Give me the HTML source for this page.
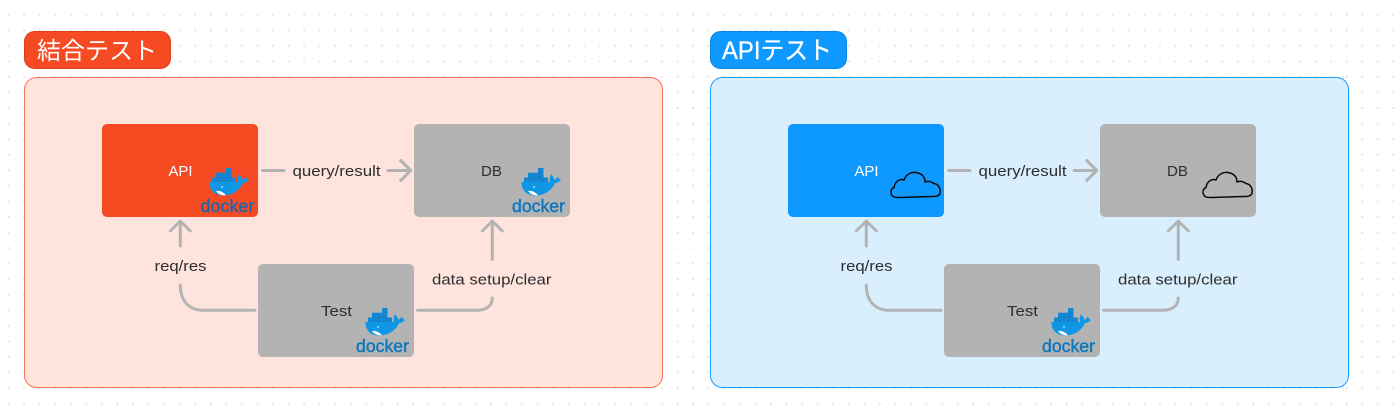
<!DOCTYPE html>
<html><head><meta charset="utf-8">
<style>
html,body{margin:0;padding:0;background:#fff;width:1400px;height:414px;overflow:hidden}
svg{display:block}
text{font-family:"Liberation Sans","Noto Sans CJK JP",sans-serif}
.l{font-size:15px;fill:#2e2e2e}
.c{fill:none;stroke:#b3b3b3;stroke-width:3;stroke-linecap:round;stroke-linejoin:round}
.d{font-size:17.500px;stroke-width:.45px}
</style></head><body>
<svg width="1400" height="414" viewBox="0 0 1400 414" xmlns="http://www.w3.org/2000/svg">
<defs>
<pattern id="g" x="0.72" y="6.92" width="15.56" height="15.56" patternUnits="userSpaceOnUse"><circle cx="7.78" cy="7.78" r="1" fill="#dedede"/></pattern>
<symbol id="w" viewBox="0 0 40 28" overflow="visible">
<path d="M0.500 14H29C28 11 29 9 30 6C32 8 33 10 33.500 12C35 11 36 9.500 37 8.500C37 10 38 11 40 12C38 14 36 15 34 15C31 22 24 27.500 14 27.500C5 27.500 0 21 0.500 14Z" fill="#0f97e6"/>
<path d="M7 23C10 22.500 14 23.500 17 27.200C12.500 27.800 9 26 7 23Z" fill="#fff"/>
<circle cx="13" cy="19" r="0.900" fill="#cfe9fa"/>
<g fill="#1488d4"><rect x="3" y="9.500" width="24" height="4.500"/><rect x="7" y="4.700" width="15.500" height="4.500"/><rect x="17" y="0" width="5.500" height="4.500"/></g>
<g stroke="#0f74bb" stroke-width=".5"><path d="M8 9.500V14M13 4.700V14M18 4.700V14M22.500 9.500V14M7 9.300H22.500M17 4.600H22.500"/></g>
</symbol>
<symbol id="cl" viewBox="0 0 50 28" overflow="visible">
<path d="M3 25C-1 23 -1 17 3 15.500C4 9 9 6.500 13 8C15 2 21 -1 27 1C32 2.500 34 6 34 10C38 8.500 41 10 43 11.500C47 12 50 16 49 21C48.500 24 45 24.500 42 24.500C30 24.500 15 25.500 8 25.500C6 25.500 4 25.500 3 25Z" fill="none" stroke="#0a0a0a" stroke-width="1.500" stroke-linejoin="round"/>
</symbol>
<g id="con">
<path class="c" d="M262.500 170.500H284M388 170.500H410.500M400.700 160.500L410.800 170.500L400.700 180.500"/>
<path class="c" d="M180.300 246V221.500M170.300 231L180.300 221L190.300 231"/>
<path class="c" d="M180.300 285C180.300 302 190 310.300 204 310.300H255"/>
<path class="c" d="M417.500 310.300H476C486 310.300 492.300 306 492.300 298"/>
<path class="c" d="M492.300 259.500V221.500M482.300 231L492.300 221L502.300 231"/>
</g>
</defs>
<rect width="1400" height="414" fill="#fff"/>
<rect width="1400" height="414" fill="url(#g)"/>

<!-- left panel -->
<rect x="24.500" y="77.500" width="638" height="310" rx="12" fill="#ffe3dd" stroke="#f8735a"/>
<rect x="24.500" y="31.500" width="146" height="37" rx="10" fill="#f64a22" stroke="#d83f1b"/>
<text x="37" y="59" font-size="24" fill="#fff" textLength="120" lengthAdjust="spacingAndGlyphs">結合テスト</text>

<use href="#con"/>
<rect x="102" y="124" width="156" height="93" rx="5" fill="#f64a22"/>
<rect x="414" y="124" width="156" height="93" rx="5" fill="#b3b3b3"/>
<rect x="258" y="264" width="156" height="93" rx="5" fill="#b3b3b3"/>
<text x="168.500" y="176" class="l" style="fill:#fff" textLength="24" lengthAdjust="spacingAndGlyphs">API</text>
<text x="481" y="176" class="l" textLength="21" lengthAdjust="spacingAndGlyphs">DB</text>
<text x="321" y="316" class="l" textLength="31" lengthAdjust="spacingAndGlyphs">Test</text>
<text x="292.500" y="176" class="l" textLength="88" lengthAdjust="spacingAndGlyphs">query/result</text>
<text x="154.500" y="271" class="l" textLength="52" lengthAdjust="spacingAndGlyphs">req/res</text>
<text x="432" y="284.500" class="l" textLength="119.500" lengthAdjust="spacingAndGlyphs">data setup/clear</text>
<use href="#w" x="209" y="168" width="40" height="28"/>
<text x="200.500" y="212" class="d" fill="#1c66ad" stroke="#1c66ad" textLength="54" lengthAdjust="spacingAndGlyphs">docker</text>
<use href="#w" x="521" y="168" width="40" height="28"/>
<text x="512" y="212" class="d" fill="#0f77bd" stroke="#0f77bd" textLength="53" lengthAdjust="spacingAndGlyphs">docker</text>
<use href="#w" x="365" y="308" width="40" height="28"/>
<text x="356" y="352" class="d" fill="#0f77bd" stroke="#0f77bd" textLength="53" lengthAdjust="spacingAndGlyphs">docker</text>

<!-- right panel -->
<rect x="710.500" y="77.500" width="638" height="310" rx="12" fill="#d9effe" stroke="#1a9bff"/>
<rect x="710.500" y="31.500" width="136" height="37" rx="10" fill="#0d99ff" stroke="#0a85dd"/>
<text x="722" y="59" font-size="25" fill="#fff" stroke="#fff" stroke-width=".3" textLength="110" lengthAdjust="spacingAndGlyphs">APIテスト</text>

<use href="#con" x="686"/>
<rect x="788" y="124" width="156" height="93" rx="5" fill="#0d99ff"/>
<rect x="1100" y="124" width="156" height="93" rx="5" fill="#b3b3b3"/>
<rect x="944" y="264" width="156" height="93" rx="5" fill="#b3b3b3"/>
<text x="854.500" y="176" class="l" style="fill:#fff" textLength="24" lengthAdjust="spacingAndGlyphs">API</text>
<text x="1167" y="176" class="l" textLength="21" lengthAdjust="spacingAndGlyphs">DB</text>
<text x="1007" y="316" class="l" textLength="31" lengthAdjust="spacingAndGlyphs">Test</text>
<text x="978.500" y="176" class="l" textLength="88" lengthAdjust="spacingAndGlyphs">query/result</text>
<text x="840.500" y="271" class="l" textLength="52" lengthAdjust="spacingAndGlyphs">req/res</text>
<text x="1118" y="284.500" class="l" textLength="119.500" lengthAdjust="spacingAndGlyphs">data setup/clear</text>
<use href="#cl" x="891" y="172" width="50" height="28"/>
<use href="#cl" x="1203" y="172" width="50" height="28"/>
<use href="#w" x="1051" y="308" width="40" height="28"/>
<text x="1042" y="352" class="d" fill="#0f77bd" stroke="#0f77bd" textLength="53" lengthAdjust="spacingAndGlyphs">docker</text>
</svg>
</body></html>
